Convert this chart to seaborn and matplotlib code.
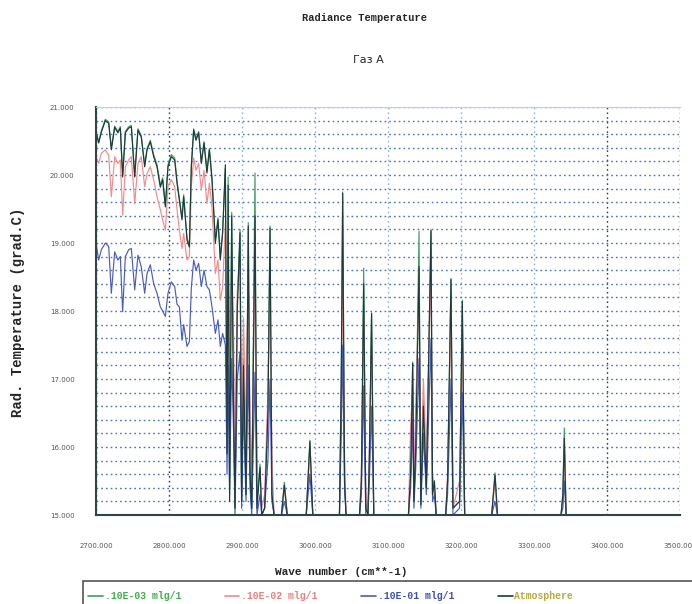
import numpy as np
import pandas as pd
import matplotlib
matplotlib.use("Agg")
import matplotlib.pyplot as plt
import seaborn as sns
from matplotlib.lines import Line2D
from matplotlib.patches import Rectangle
from matplotlib.ticker import FormatStrFormatter, MultipleLocator

# -----------------------------
# Data
# -----------------------------
# broad absorption band, 2700-2877 cm-1
wave_broad = [2700.0, 2703.7, 2707.3, 2712.8, 2717.4, 2721.0, 2725.6, 2730.0, 2733.3, 2736.5,
              2740.2, 2744.7, 2748.4, 2753.0, 2757.5, 2762.0, 2766.7, 2769.9, 2774.4, 2779.0,
              2783.6, 2788.1, 2791.3, 2795.0, 2798.6, 2803.2, 2807.8, 2811.0, 2814.2, 2817.8,
              2820.1, 2824.7, 2827.9, 2830.6, 2833.8, 2837.0, 2840.6, 2844.3, 2848.0, 2852.0,
              2855.3, 2858.9, 2863.5, 2867.1, 2870.3, 2873.5, 2877.2]

atm_broad = [20.62, 20.47, 20.63, 20.80, 20.76, 20.37, 20.70, 20.62, 20.69, 19.97,
             20.62, 20.69, 20.71, 19.97, 20.66, 20.56, 20.12, 20.37, 20.49, 20.27,
             20.12, 19.82, 19.93, 19.53, 20.12, 20.27, 20.22, 19.88, 19.63, 19.34,
             19.68, 19.04, 18.94, 20.12, 20.66, 20.51, 20.62, 20.17, 20.47, 20.03,
             20.37, 19.93, 19.00, 19.34, 18.75, 19.15, 20.15]
c1e3_broad = [20.64, 20.49, 20.65, 20.82, 20.78, 20.40, 20.72, 20.64, 20.71, 20.00,
              20.64, 20.71, 20.73, 20.00, 20.68, 20.58, 20.15, 20.39, 20.51, 20.30,
              20.15, 19.85, 19.96, 19.56, 20.15, 20.30, 20.25, 19.91, 19.66, 19.37,
              19.71, 19.07, 18.97, 20.15, 20.68, 20.53, 20.64, 20.20, 20.49, 20.06,
              20.39, 19.96, 19.04, 19.37, 18.79, 19.18, 20.10]
c1e2_broad = [20.27, 20.17, 20.32, 20.37, 20.29, 19.68, 20.27, 20.17, 20.22, 19.41,
              20.12, 20.22, 20.27, 19.58, 20.17, 20.27, 19.83, 20.02, 20.12, 19.93,
              19.68, 19.49, 19.34, 19.19, 19.83, 19.93, 19.83, 19.49, 19.19, 18.92,
              19.14, 18.75, 18.80, 19.83, 20.25, 20.07, 20.17, 19.78, 20.07, 19.58,
              19.88, 19.53, 18.55, 18.75, 18.16, 18.36, 19.30]
c1e1_broad = [19.00, 18.75, 18.90, 19.00, 18.95, 18.26, 18.87, 18.75, 18.80, 17.99,
              18.80, 18.90, 18.92, 18.31, 18.82, 18.65, 18.26, 18.55, 18.68, 18.40,
              18.26, 18.06, 18.00, 17.92, 18.26, 18.43, 18.36, 18.10, 18.06, 17.57,
              17.80, 17.48, 17.55, 18.34, 18.75, 18.60, 18.70, 18.36, 18.60, 18.36,
              18.31, 18.06, 17.67, 17.87, 17.48, 17.67, 17.50]

# narrow emission lines, 2879-3500 cm-1
wave_lines = [2879.5, 2881.0, 2883.0, 2885.9, 2888.5, 2890.4, 2893.5, 2897.3, 2899.5, 2902.0,
              2905.5, 2908.6, 2911.0, 2913.3, 2917.8, 2920.5, 2924.7, 2927.0, 2931.0, 2935.5,
              2938.4, 2941.0, 2944.0, 2954.0, 2958.0, 2962.0, 2988.0, 2993.0, 2997.0, 3033.5,
              3036.0, 3037.9, 3040.5, 3042.5, 3061.0, 3063.5, 3066.7, 3069.5, 3072.5, 3074.5,
              3077.5, 3080.5, 3128.0, 3131.0, 3133.8, 3135.5, 3138.0, 3142.5, 3145.0, 3148.5,
              3152.5, 3158.9, 3161.0, 3163.5, 3166.0, 3179.0, 3181.6, 3186.3, 3189.0, 3198.0,
              3201.8, 3205.0, 3242.0, 3246.6, 3250.0, 3337.0, 3339.5, 3341.5, 3344.0, 3500.0]

atm_lines = [15.9, 19.85, 15.2, 19.40, 16.5, 15.1, 18.0, 19.15, 15.2, 17.2,
             15.3, 19.25, 15.6, 15.1, 19.40, 15.1, 15.70, 15.0, 15.1, 16.5,
             19.22, 15.3, 15.0, 15.0, 15.44, 15.0, 15.0, 16.08, 15.0, 15.0,
             17.0, 19.73, 15.5, 15.0, 15.0, 15.5, 18.40, 15.1, 15.0, 15.9,
             17.97, 15.0, 15.0, 15.6, 17.23, 15.2, 16.0, 18.65, 15.15, 16.6,
             15.4, 19.18, 15.3, 15.5, 15.0, 15.0, 15.5, 18.46, 15.1, 15.2,
             18.14, 15.0, 15.0, 15.59, 15.0, 15.0, 15.3, 16.13, 15.0, 15.0]
c1e3_lines = [16.0, 19.97, 15.3, 19.45, 16.6, 15.1, 18.1, 19.20, 15.2, 17.3,
              15.3, 19.30, 15.7, 15.1, 20.03, 15.2, 15.75, 15.0, 15.1, 16.6,
              19.25, 15.3, 15.0, 15.0, 15.48, 15.0, 15.0, 16.10, 15.0, 15.0,
              17.1, 19.75, 15.5, 15.0, 15.0, 15.4, 18.63, 15.2, 15.0, 15.8,
              17.95, 15.0, 15.0, 15.6, 17.25, 15.2, 16.1, 19.17, 15.2, 16.7,
              15.4, 19.20, 15.3, 15.5, 15.0, 15.0, 15.5, 18.48, 15.1, 15.2,
              18.16, 15.0, 15.0, 15.62, 15.0, 15.0, 15.3, 16.28, 15.0, 15.0]
c1e2_lines = [16.4, 18.9, 16.8, 18.6, 17.6, 15.6, 18.3, 18.7, 15.8, 17.9,
              16.2, 18.6, 16.4, 15.5, 18.8, 15.6, 15.6, 15.1, 15.3, 16.8,
              18.4, 15.8, 15.0, 15.0, 15.40, 15.0, 15.0, 15.95, 15.0, 15.0,
              16.9, 18.6, 15.9, 15.0, 15.0, 15.6, 17.9, 15.4, 15.0, 16.0,
              17.5, 15.0, 15.0, 16.3, 16.9, 15.5, 16.6, 18.3, 15.5, 17.0,
              15.8, 18.7, 15.6, 15.4, 15.0, 15.0, 15.6, 18.0, 15.1, 15.5,
              17.7, 15.0, 15.0, 15.5, 15.0, 15.0, 15.2, 16.0, 15.0, 15.0]
c1e1_lines = [15.6, 17.2, 15.4, 17.3, 16.2, 15.0, 17.0, 17.4, 15.1, 16.6,
              15.2, 17.2, 15.4, 15.0, 17.1, 15.0, 15.3, 15.0, 15.1, 15.8,
              17.0, 15.2, 15.0, 15.0, 15.2, 15.0, 15.0, 15.6, 15.0, 15.0,
              16.2, 17.5, 15.4, 15.0, 15.0, 15.3, 16.9, 15.0, 15.0, 15.5,
              16.6, 15.0, 15.0, 15.4, 16.4, 15.1, 15.7, 17.3, 15.1, 16.2,
              15.3, 17.6, 15.2, 15.3, 15.0, 15.0, 15.3, 17.0, 15.0, 15.1,
              16.8, 15.0, 15.0, 15.2, 15.0, 15.0, 15.1, 15.5, 15.0, 15.0]

labels = [".10E-03 mlg/1", ".10E-02 mlg/1", ".10E-01 mlg/1", "Atmosphere"]
line_colors = ["#3f9f5f", "#f28c8c", "#4b5cbf", "#1d3b3b"]
text_colors = ["#3fae4f", "#f07f7f", "#3d4fb5", "#b8a93c"]
x_major = [2700, 2800, 2900, 3000, 3100, 3200, 3300, 3400, 3500]

wave_number = wave_broad + wave_lines
series_values = [c1e3_broad + c1e3_lines, c1e2_broad + c1e2_lines,
                 c1e1_broad + c1e1_lines, atm_broad + atm_lines]

frames = []
for name, vals in zip(labels, series_values):
    frames.append(pd.DataFrame({"wave": wave_number, "temp": vals, "series": name}))
long_df = pd.concat(frames, ignore_index=True)

# -----------------------------
# Figure
# -----------------------------
sns.set_style("white")
plt.rcParams["font.family"] = ["DejaVu Sans"]
mono = {"family": "Liberation Mono", "weight": "bold"}

fig = plt.figure(figsize=(6.92, 6.04), dpi=100)
ax = fig.add_axes([96 / 692, 89 / 604, 584 / 692, 408 / 604])

sns.lineplot(data=long_df, x="wave", y="temp", hue="series", hue_order=labels,
             palette=dict(zip(labels, line_colors)), estimator=None, sort=False,
             linewidth=0.85, legend=False, ax=ax)

ax.set_xlim(2700, 3500)
ax.set_ylim(15, 21)
ax.set_xlabel("")
ax.set_ylabel("")

ax.set_xticks(x_major)
ax.xaxis.set_minor_locator(MultipleLocator(20))
ax.set_yticks([15, 16, 17, 18, 19, 20, 21])
ax.yaxis.set_minor_locator(MultipleLocator(0.2))
ax.xaxis.set_major_formatter(FormatStrFormatter("%.3f"))
ax.yaxis.set_major_formatter(FormatStrFormatter("%.3f"))

# dotted horizontal grid at every 0.2, dotted verticals every 100
ax.grid(True, axis="y", which="both", color="#4a6fd0", linestyle=(0, (1.2, 2.2)), linewidth=1.0)
ax.grid(True, axis="x", which="major", linestyle=(0, (1.2, 2.2)), linewidth=1.0)

ax.tick_params(axis="x", which="major", direction="inout", length=25, width=1.2,
               labelsize=5, labelcolor="#555555", pad=8)
ax.tick_params(axis="x", which="minor", direction="inout", length=10, width=1.2, color="#2f4545")
ax.tick_params(axis="y", which="major", direction="inout", length=29, width=1.3, color="#2f4545",
               labelsize=5, labelcolor="#555555", pad=1)
ax.tick_params(axis="y", which="minor", direction="inout", length=7, width=1.3, color="#2f4545")

dark = "#2f4545"
light = "#8fb3d9"
xtick_colors = [dark, dark, light, light, light, light, light, dark, dark]
for tick, col in zip(ax.xaxis.get_major_ticks(), xtick_colors):
    tick.tick1line.set_color(col)
    tick.gridline.set_color(col)

ax.spines["right"].set_visible(False)
ax.spines["top"].set_color("#cccccc")
ax.spines["top"].set_linewidth(0.8)
for side in ["left", "bottom"]:
    ax.spines[side].set_color(dark)
    ax.spines[side].set_linewidth(1.5)

# titles and axis labels
fig.text(365 / 692, 1 - 18 / 604, "Radiance Temperature", ha="center", va="center",
         fontsize=7.5, **mono)
fig.text(368 / 692, 1 - 60 / 604, "Газ А", ha="center", va="center", fontsize=8)
fig.text(18 / 692, 1 - 312 / 604, "Rad. Temperature (grad.C)", ha="center", va="center",
         rotation=90, fontsize=10, **mono)
fig.text(341 / 692, 1 - 572 / 604, "Wave number (cm**-1)", ha="center", va="center",
         fontsize=8, **mono)

# legend box cut by the bottom edge
fig.patches.append(Rectangle((83 / 692, -0.05), 0.95, 0.088, transform=fig.transFigure,
                             fill=False, edgecolor="#555555", linewidth=1.2))
handles = [Line2D([0], [0], color=c, linewidth=1.2) for c in line_colors]
fig.legend(handles, labels, loc="center left", bbox_to_anchor=(88 / 692, 1 - 596 / 604),
           ncol=4, frameon=False, prop={"family": "Liberation Mono", "weight": "bold", "size": 7},
           labelcolor=text_colors, handlelength=1.5, handletextpad=0.2, columnspacing=4.5,
           borderpad=0, borderaxespad=0)

plt.savefig("out.png", dpi=100)
